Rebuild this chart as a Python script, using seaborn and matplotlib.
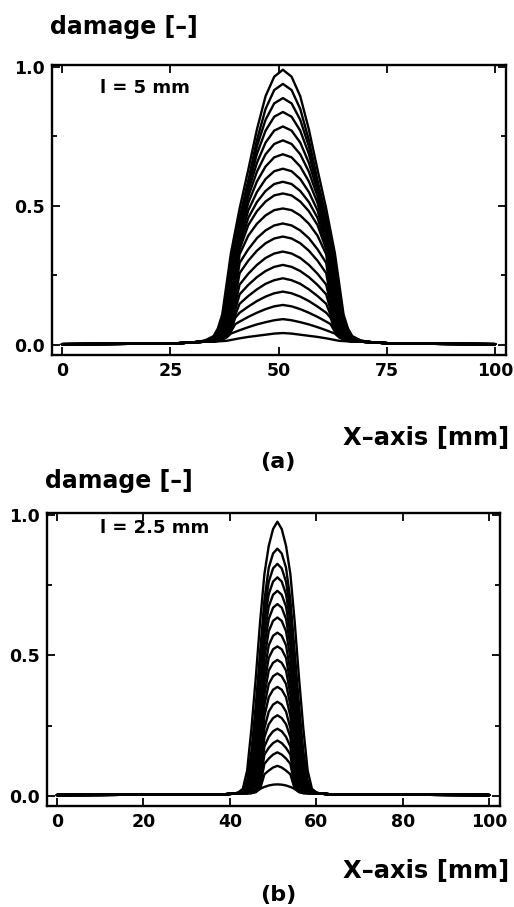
import pandas as pd
import matplotlib
matplotlib.use("Agg")
import matplotlib.pyplot as plt
import seaborn as sns
from matplotlib.ticker import MultipleLocator

# x positions of the sampled points [mm]
x_a = [0, 25, 30, 33, 35, 36, 37, 38, 39, 40, 41, 43, 45, 47, 49, 51,
       53, 55, 57, 59, 61, 62, 63, 64, 65, 66, 67, 69, 72, 77, 100]
x_b = [0, 36, 39, 41, 42, 43, 44, 45, 46, 47, 48, 49, 50, 51,
       52, 53, 54, 55, 56, 57, 58, 59, 60, 61, 63, 66, 100]

# damage profiles (x 1/1000), one row per load step, read from the centre (x=51) outwards;
# the profiles are symmetric so each row is mirrored onto the left side
damage_a = [
    [990, 965, 895, 775, 630, 490, 410, 330, 220, 110, 60, 32, 16, 9, 5, 3],
    [939, 917, 849, 737, 591, 459, 383, 300, 192, 98, 53, 30, 15, 9, 5, 3],
    [888, 869, 810, 714, 578, 431, 360, 274, 169, 88, 47, 28, 15, 9, 5, 3],
    [838, 821, 771, 687, 569, 417, 337, 249, 146, 78, 42, 27, 14, 9, 5, 3],
    [786, 771, 728, 655, 554, 422, 342, 236, 126, 67, 36, 25, 14, 9, 5, 3],
    [736, 723, 686, 623, 534, 406, 324, 214, 107, 58, 32, 24, 14, 9, 5, 3],
    [686, 675, 642, 588, 511, 390, 302, 192, 97, 53, 30, 22, 13, 9, 5, 3],
    [634, 625, 597, 550, 484, 373, 279, 169, 87, 47, 28, 20, 13, 9, 5, 3],
    [587, 579, 554, 514, 457, 358, 258, 148, 77, 42, 27, 19, 12, 9, 5, 3],
    [545, 538, 516, 481, 431, 344, 240, 130, 69, 37, 25, 17, 12, 9, 5, 3],
    [491, 485, 466, 436, 393, 326, 216, 108, 59, 32, 24, 16, 12, 9, 5, 3],
    [437, 430, 412, 384, 344, 295, 192, 97, 53, 30, 22, 15, 12, 9, 5, 3],
    [390, 383, 366, 339, 303, 258, 172, 88, 48, 28, 20, 15, 12, 9, 5, 3],
    [336, 329, 313, 288, 256, 217, 148, 77, 42, 27, 19, 14, 12, 9, 5, 3],
    [288, 281, 266, 244, 216, 182, 127, 68, 36, 25, 17, 14, 12, 9, 5, 3],
    [240, 233, 220, 200, 176, 148, 108, 59, 32, 24, 16, 14, 12, 9, 5, 3],
    [192, 186, 174, 158, 138, 116, 98, 54, 30, 22, 15, 13, 12, 9, 5, 3],
    [144, 139, 129, 116, 101, 84, 75, 48, 29, 21, 15, 13, 12, 9, 5, 3],
    [93, 89, 82, 74, 64, 53, 47, 41, 27, 19, 15, 12, 12, 9, 5, 3],
    [43, 41, 37, 33, 29, 24, 21, 18, 15, 14, 13, 12, 12, 9, 5, 3],
]
damage_b = [
    [976, 950, 890, 790, 620, 420, 240, 90, 25, 13, 8, 6, 5, 3],
    [880, 863, 812, 698, 512, 323, 159, 55, 19, 10, 8, 6, 5, 3],
    [826, 810, 762, 657, 463, 279, 123, 39, 16, 10, 8, 6, 5, 3],
    [778, 763, 718, 620, 420, 240, 90, 25, 13, 10, 8, 6, 5, 3],
    [730, 716, 674, 577, 381, 208, 76, 22, 12, 10, 8, 6, 5, 3],
    [683, 670, 630, 535, 343, 176, 62, 20, 11, 10, 8, 6, 5, 3],
    [635, 623, 586, 491, 304, 144, 48, 17, 10, 10, 8, 6, 5, 3],
    [581, 570, 536, 443, 261, 107, 32, 14, 10, 10, 8, 6, 5, 3],
    [532, 522, 491, 401, 224, 83, 24, 12, 10, 10, 8, 6, 5, 3],
    [484, 474, 446, 362, 192, 69, 21, 11, 10, 10, 8, 6, 5, 3],
    [436, 426, 398, 323, 159, 55, 19, 10, 10, 10, 8, 6, 5, 3],
    [388, 378, 351, 284, 127, 41, 16, 10, 10, 10, 8, 6, 5, 3],
    [335, 325, 300, 241, 91, 25, 13, 10, 10, 10, 8, 6, 5, 3],
    [287, 277, 255, 209, 76, 22, 12, 10, 10, 10, 8, 6, 5, 3],
    [239, 230, 210, 176, 62, 20, 11, 10, 10, 10, 8, 6, 5, 3],
    [197, 188, 171, 147, 50, 18, 10, 10, 10, 10, 8, 6, 5, 3],
    [155, 147, 133, 114, 38, 15, 10, 10, 10, 10, 8, 6, 5, 3],
    [107, 101, 90, 77, 25, 13, 10, 10, 10, 10, 8, 6, 5, 3],
    [41, 40, 37, 32, 25, 17, 11, 10, 10, 10, 8, 6, 5, 3],
]

xticks_a = [0, 25, 50, 75, 100]
xticks_b = [0, 20, 40, 60, 80, 100]
yticks = [0.0, 0.5, 1.0]
ytick_labels = ["0.0", "0.5", "1.0"]

sns.set_style("ticks")
plt.rcParams["font.family"] = ["DejaVu Sans"]
plt.rcParams.update({"text.color": "k", "axes.edgecolor": "k",
                     "xtick.color": "k", "ytick.color": "k",
                     "axes.labelcolor": "k"})

W, H = 514.0, 907.0
fig = plt.figure(figsize=(W / 100, H / 100), dpi=100)

panels = [
    (damage_a, x_a, [52 / W, 1 - 355 / H, 454 / W, 290 / H], xticks_a,
     "l = 5 mm", 88, 27, 438, "(a)", 462),
    (damage_b, x_b, [47 / W, 1 - 806 / H, 453 / W, 293 / H], xticks_b,
     "l = 2.5 mm", 528, 481, 871, "(b)", 895),
]

for rows, xs, rect, xt, note, note_y, title_y, xlab_y, tag, tag_y in panels:
    ax = fig.add_axes(rect)
    recs = []
    for c, half in enumerate(rows):
        full = half[::-1] + half[1:]
        for xv, yv in zip(xs, full):
            recs.append({"x": xv, "damage": yv / 1000.0, "step": c})
    df = pd.DataFrame(recs)
    sns.lineplot(data=df, x="x", y="damage", units="step", estimator=None,
                 color="k", lw=1.7, sort=False, legend=False, ax=ax)

    ax.set_xlim(-2.3, 102.5)
    ax.set_ylim(-0.036, 1.007)
    ax.set_xticks(xt)
    ax.set_yticks(yticks)
    ax.set_yticklabels(ytick_labels)
    ax.yaxis.set_minor_locator(MultipleLocator(0.25))
    ax.tick_params(which="both", direction="in", top=True, right=True,
                   labelsize=12.5, width=1.3, pad=5, colors="k")
    ax.tick_params(which="major", length=6)
    ax.tick_params(which="minor", length=3.5)
    for lab in ax.get_xticklabels() + ax.get_yticklabels():
        lab.set_fontweight("bold")
    for s in ax.spines.values():
        s.set_linewidth(1.7)
        s.set_color("k")
    ax.set_xlabel("")
    ax.set_ylabel("")

    fig.text(100 / W, 1 - note_y / H, note, fontsize=13, fontweight="bold", va="center")
    fig.text(rect[0] - 2 / W, 1 - title_y / H, "damage [–]", fontsize=17,
             fontweight="bold", va="center")
    fig.text(509 / W, 1 - xlab_y / H, "X–axis [mm]", fontsize=17.5, fontweight="bold",
             ha="right", va="center")
    fig.text(278 / W, 1 - tag_y / H, tag, fontsize=16, fontweight="bold",
             ha="center", va="center")

fig.savefig("out.png")
